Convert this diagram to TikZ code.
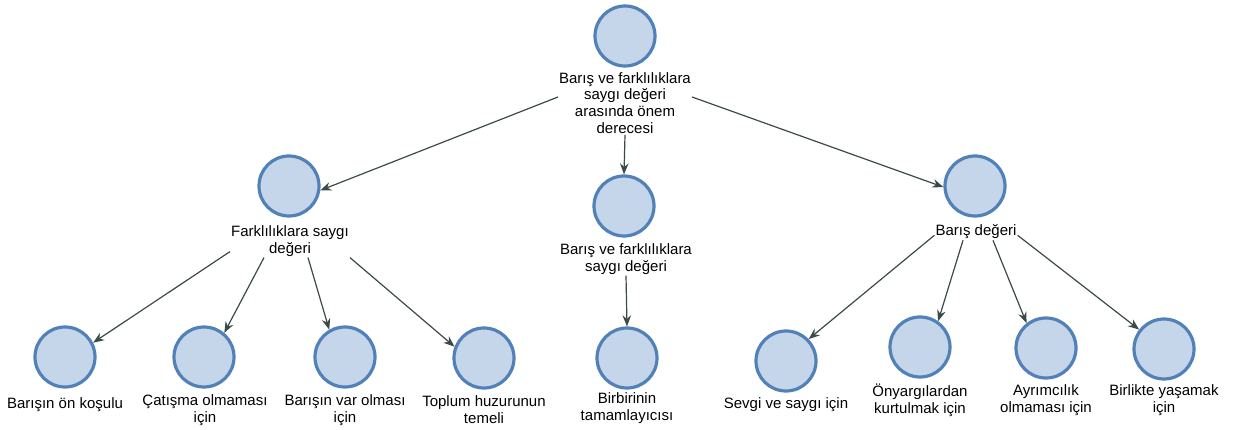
\documentclass[tikz,border=0pt]{standalone}
\usepackage{fontspec}
\setmainfont{Liberation Sans}
\usetikzlibrary{arrows.meta}
\definecolor{ring}{HTML}{5281B8}
\definecolor{disc}{HTML}{C5D5EA}
\definecolor{linkc}{HTML}{3B4A47}
\begin{document}
\begin{tikzpicture}[x=1pt,y=-1pt,
  concept/.style={circle,draw=ring,fill=disc,line width=3.2pt,minimum size=60pt,inner sep=0pt},
  caption/.style={align=center,font=\fontsize{15}{16.8}\selectfont,inner sep=1pt},
  conn/.style={draw=linkc,line width=1.2pt,-{Stealth[length=11pt,width=8.5pt]}}]
\path[use as bounding box] (0,0) rectangle (1237,430);

\node[concept] (r) at (625,36) {};
\node[caption] (rl) at (625,103) {Barış ve farklılıklara\\saygı değeri\\arasında önem\\derecesi};

\node[concept] (fl) at (289,186) {};
\node[caption] (fll) at (290,241) {Farklılıklara saygı\\değeri};
\node[concept] (bf) at (624,206) {};
\node[caption] (bfl) at (626,259) {Barış ve farklılıklara\\saygı değeri};
\node[concept] (bd) at (975,186) {};
\node[caption] (bdl) at (976,232) {Barış değeri};

\node[concept] (b1) at (65,357) {};
\node[caption] (b1l) at (65,405) {Barışın ön koşulu};
\node[concept] (b2) at (204,357) {};
\node[caption] (b2l) at (205,410) {Çatışma olmaması\\için};
\node[concept] (b3) at (345,357) {};
\node[caption] (b3l) at (345,410) {Barışın var olması\\için};
\node[concept] (b4) at (484,358) {};
\node[caption] (b4l) at (484,410) {Toplum huzurunun\\temeli};
\node[concept] (b5) at (627,358) {};
\node[caption] (b5l) at (627,408) {Birbirinin\\tamamlayıcısı};
\node[concept] (b6) at (786,361) {};
\node[caption] (b6l) at (786,405) {Sevgi ve saygı için};
\node[concept] (b7) at (920,347) {};
\node[caption] (b7l) at (920,400) {Önyargılardan\\kurtulmak için};
\node[concept] (b8) at (1046,348) {};
\node[caption] (b8l) at (1046,400) {Ayrımcılık\\olmaması için};
\node[concept] (b9) at (1164,349) {};
\node[caption] (b9l) at (1164,400) {Birlikte yaşamak\\için};

\draw[conn] ([yshift=6pt]rl.west) -- (fl.-8);
\draw[conn] (rl.south) -- (bf.north);
\draw[conn] ([yshift=6pt]rl.east) -- (bd.182);
\draw[conn] ([yshift=6pt]fll.south west) -- (b1.27);
\draw[conn] ([xshift=-26pt]fll.south) -- (b2.50);
\draw[conn] ([xshift=18pt]fll.south) -- (b3.120);
\draw[conn] (fll.south east) -- (b4.159);
\draw[conn] (bfl.south) -- (b5.north);
\draw[conn] ([yshift=5pt]bdl.south west) -- (b6.44);
\draw[conn] ([xshift=-13pt]bdl.south) -- (b7.55);
\draw[conn] ([xshift=17pt]bdl.south) -- (b8.128);
\draw[conn] ([yshift=5pt]bdl.south east) -- (b9.142);
\end{tikzpicture}
\end{document}
